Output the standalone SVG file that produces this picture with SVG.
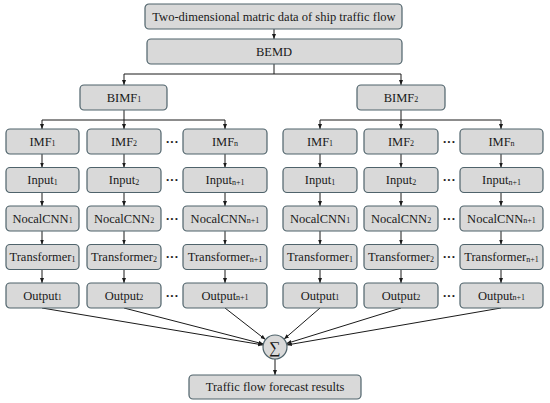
<svg xmlns="http://www.w3.org/2000/svg" width="550" height="403" viewBox="0 0 550 403">
<style>
.b{fill:#d9d9d9;stroke:#4f636b;stroke-width:1.2}
.t{font-family:"Liberation Serif","Times New Roman",serif;font-size:12.5px;fill:#1a1a1a;text-anchor:middle}
.s{font-size:8px}
.d{font-family:"Liberation Serif","Times New Roman",serif;font-size:13px;font-weight:bold;fill:#1a1a1a;text-anchor:middle}
.c{fill:none;stroke:#1a1a1a;stroke-width:1}
</style>
<defs>
<marker id="a" viewBox="0 0 10 10" refX="10" refY="5" markerWidth="5" markerHeight="5" orient="auto" markerUnits="userSpaceOnUse">
<path d="M0,1 L10,5 L0,9 Z" fill="#1a1a1a"/>
</marker>
</defs>
<rect width="550" height="403" fill="#fff"/>
<g id="connectors" class="c">
<path d="M274,29 V39" marker-end="url(#a)"/>
<path d="M274,64 V74"/>
<path d="M124,74 H401"/>
<path d="M124,74 V85" marker-end="url(#a)"/>
<path d="M401,74 V85" marker-end="url(#a)"/>
<path d="M124,110 V120"/>
<path d="M42,120 H225"/>
<path d="M42,120 V129" marker-end="url(#a)"/>
<path d="M124,120 V129" marker-end="url(#a)"/>
<path d="M225,120 V129" marker-end="url(#a)"/>
<path d="M401,110 V120"/>
<path d="M320,120 H501"/>
<path d="M320,120 V129" marker-end="url(#a)"/>
<path d="M401,120 V129" marker-end="url(#a)"/>
<path d="M501,120 V129" marker-end="url(#a)"/>
<g id="col-arrows">
<path d="M42,154 V167.5" marker-end="url(#a)"/><path d="M42,192.5 V206" marker-end="url(#a)"/><path d="M42,231 V244.5" marker-end="url(#a)"/><path d="M42,269.5 V283" marker-end="url(#a)"/>
<path d="M124,154 V167.5" marker-end="url(#a)"/><path d="M124,192.5 V206" marker-end="url(#a)"/><path d="M124,231 V244.5" marker-end="url(#a)"/><path d="M124,269.5 V283" marker-end="url(#a)"/>
<path d="M225,154 V167.5" marker-end="url(#a)"/><path d="M225,192.5 V206" marker-end="url(#a)"/><path d="M225,231 V244.5" marker-end="url(#a)"/><path d="M225,269.5 V283" marker-end="url(#a)"/>
<path d="M320,154 V167.5" marker-end="url(#a)"/><path d="M320,192.5 V206" marker-end="url(#a)"/><path d="M320,231 V244.5" marker-end="url(#a)"/><path d="M320,269.5 V283" marker-end="url(#a)"/>
<path d="M401,154 V167.5" marker-end="url(#a)"/><path d="M401,192.5 V206" marker-end="url(#a)"/><path d="M401,231 V244.5" marker-end="url(#a)"/><path d="M401,269.5 V283" marker-end="url(#a)"/>
<path d="M501,154 V167.5" marker-end="url(#a)"/><path d="M501,192.5 V206" marker-end="url(#a)"/><path d="M501,231 V244.5" marker-end="url(#a)"/><path d="M501,269.5 V283" marker-end="url(#a)"/>
</g>
<path d="M42,308 L263.2,345" marker-end="url(#a)"/>
<path d="M124,308 L263.4,344" marker-end="url(#a)"/>
<path d="M225,308 L265.5,339.6" marker-end="url(#a)"/>
<path d="M320,308 L284.1,339.1" marker-end="url(#a)"/>
<path d="M401,308 L286.5,343.5" marker-end="url(#a)"/>
<path d="M501,308 L286.8,345" marker-end="url(#a)"/>
<path d="M275,359 V375" marker-end="url(#a)"/>
</g>
<g id="n-top"><rect class="b" x="145" y="4" width="257" height="25" rx="4"/><text class="t" x="274" y="20.5">Two-dimensional matric data of ship traffic flow</text></g>
<g id="n-bemd"><rect class="b" x="147" y="39" width="255" height="25" rx="4"/><text class="t" x="274" y="55.5">BEMD</text></g>
<g id="n-bimf1"><rect class="b" x="80" y="85" width="87" height="25" rx="4"/><text class="t" x="124" y="101.5">BIMF<tspan class="s" dy="0.5">1</tspan></text></g>
<g id="n-bimf2"><rect class="b" x="357" y="85" width="88" height="25" rx="4"/><text class="t" x="401" y="101.5">BIMF<tspan class="s" dy="0.5">2</tspan></text></g>

<g id="L-imf1"><rect class="b" x="6" y="129" width="73" height="25" rx="4"/><text class="t" x="42.5" y="145.5">IMF<tspan class="s" dy="0.5">1</tspan></text></g>
<g id="L-imf2"><rect class="b" x="87" y="129" width="74" height="25" rx="4"/><text class="t" x="124" y="145.5">IMF<tspan class="s" dy="0.5">2</tspan></text></g>
<g id="L-imfn"><rect class="b" x="183" y="129" width="84" height="25" rx="4"/><text class="t" x="225" y="145.5">IMF<tspan class="s" dy="0.5">n</tspan></text></g>
<g id="L-in1"><rect class="b" x="6" y="167.5" width="73" height="25" rx="4"/><text class="t" x="42.5" y="184">Input<tspan class="s" dy="0.5">1</tspan></text></g>
<g id="L-in2"><rect class="b" x="87" y="167.5" width="74" height="25" rx="4"/><text class="t" x="124" y="184">Input<tspan class="s" dy="0.5">2</tspan></text></g>
<g id="L-inn"><rect class="b" x="183" y="167.5" width="84" height="25" rx="4"/><text class="t" x="225" y="184">Input<tspan class="s" dy="0.5">n+1</tspan></text></g>
<g id="L-cnn1"><rect class="b" x="6" y="206" width="73" height="25" rx="4"/><text class="t" x="42.5" y="222.5">NocalCNN<tspan class="s" dy="0.5">1</tspan></text></g>
<g id="L-cnn2"><rect class="b" x="87" y="206" width="74" height="25" rx="4"/><text class="t" x="124" y="222.5">NocalCNN<tspan class="s" dy="0.5">2</tspan></text></g>
<g id="L-cnnn"><rect class="b" x="183" y="206" width="84" height="25" rx="4"/><text class="t" x="225" y="222.5">NocalCNN<tspan class="s" dy="0.5">n+1</tspan></text></g>
<g id="L-tr1"><rect class="b" x="6" y="244.5" width="73" height="25" rx="4"/><text class="t" x="42.5" y="261">Transformer<tspan class="s" dy="0.5">1</tspan></text></g>
<g id="L-tr2"><rect class="b" x="87" y="244.5" width="74" height="25" rx="4"/><text class="t" x="124" y="261">Transformer<tspan class="s" dy="0.5">2</tspan></text></g>
<g id="L-trn"><rect class="b" x="183" y="244.5" width="84" height="25" rx="4"/><text class="t" x="225" y="261">Transformer<tspan class="s" dy="0.5">n+1</tspan></text></g>
<g id="L-out1"><rect class="b" x="6" y="283" width="73" height="25" rx="4"/><text class="t" x="42.5" y="299.5">Output<tspan class="s" dy="0.5">1</tspan></text></g>
<g id="L-out2"><rect class="b" x="87" y="283" width="74" height="25" rx="4"/><text class="t" x="124" y="299.5">Output<tspan class="s" dy="0.5">2</tspan></text></g>
<g id="L-outn"><rect class="b" x="183" y="283" width="84" height="25" rx="4"/><text class="t" x="225" y="299.5">Output<tspan class="s" dy="0.5">n+1</tspan></text></g>

<g id="R-imf1"><rect class="b" x="283" y="129" width="74" height="25" rx="4"/><text class="t" x="320" y="145.5">IMF<tspan class="s" dy="0.5">1</tspan></text></g>
<g id="R-imf2"><rect class="b" x="364" y="129" width="74" height="25" rx="4"/><text class="t" x="401" y="145.5">IMF<tspan class="s" dy="0.5">2</tspan></text></g>
<g id="R-imfn"><rect class="b" x="460" y="129" width="83" height="25" rx="4"/><text class="t" x="501.5" y="145.5">IMF<tspan class="s" dy="0.5">n</tspan></text></g>
<g id="R-in1"><rect class="b" x="283" y="167.5" width="74" height="25" rx="4"/><text class="t" x="320" y="184">Input<tspan class="s" dy="0.5">1</tspan></text></g>
<g id="R-in2"><rect class="b" x="364" y="167.5" width="74" height="25" rx="4"/><text class="t" x="401" y="184">Input<tspan class="s" dy="0.5">2</tspan></text></g>
<g id="R-inn"><rect class="b" x="460" y="167.5" width="83" height="25" rx="4"/><text class="t" x="501.5" y="184">Input<tspan class="s" dy="0.5">n+1</tspan></text></g>
<g id="R-cnn1"><rect class="b" x="283" y="206" width="74" height="25" rx="4"/><text class="t" x="320" y="222.5">NocalCNN<tspan class="s" dy="0.5">1</tspan></text></g>
<g id="R-cnn2"><rect class="b" x="364" y="206" width="74" height="25" rx="4"/><text class="t" x="401" y="222.5">NocalCNN<tspan class="s" dy="0.5">2</tspan></text></g>
<g id="R-cnnn"><rect class="b" x="460" y="206" width="83" height="25" rx="4"/><text class="t" x="501.5" y="222.5">NocalCNN<tspan class="s" dy="0.5">n+1</tspan></text></g>
<g id="R-tr1"><rect class="b" x="283" y="244.5" width="74" height="25" rx="4"/><text class="t" x="320" y="261">Transformer<tspan class="s" dy="0.5">1</tspan></text></g>
<g id="R-tr2"><rect class="b" x="364" y="244.5" width="74" height="25" rx="4"/><text class="t" x="401" y="261">Transformer<tspan class="s" dy="0.5">2</tspan></text></g>
<g id="R-trn"><rect class="b" x="460" y="244.5" width="83" height="25" rx="4"/><text class="t" x="501.5" y="261">Transformer<tspan class="s" dy="0.5">n+1</tspan></text></g>
<g id="R-out1"><rect class="b" x="283" y="283" width="74" height="25" rx="4"/><text class="t" x="320" y="299.5">Output<tspan class="s" dy="0.5">1</tspan></text></g>
<g id="R-out2"><rect class="b" x="364" y="283" width="74" height="25" rx="4"/><text class="t" x="401" y="299.5">Output<tspan class="s" dy="0.5">2</tspan></text></g>
<g id="R-outn"><rect class="b" x="460" y="283" width="83" height="25" rx="4"/><text class="t" x="501.5" y="299.5">Output<tspan class="s" dy="0.5">n+1</tspan></text></g>

<g id="dots">
<text class="d" x="172" y="145.5">···</text><text class="d" x="172" y="184">···</text><text class="d" x="172" y="222.5">···</text><text class="d" x="172" y="261">···</text><text class="d" x="172" y="299.5">···</text>
<text class="d" x="449" y="145.5">···</text><text class="d" x="449" y="184">···</text><text class="d" x="449" y="222.5">···</text><text class="d" x="449" y="261">···</text><text class="d" x="449" y="299.5">···</text>
</g>
<g id="n-sum"><circle class="b" cx="275" cy="347" r="12"/><text class="t" x="275" y="352.5" style="font-size:16px">∑</text></g>
<g id="n-result"><rect class="b" x="189" y="375" width="172" height="24" rx="4"/><text class="t" x="275" y="391">Traffic flow forecast results</text></g>
</svg>
